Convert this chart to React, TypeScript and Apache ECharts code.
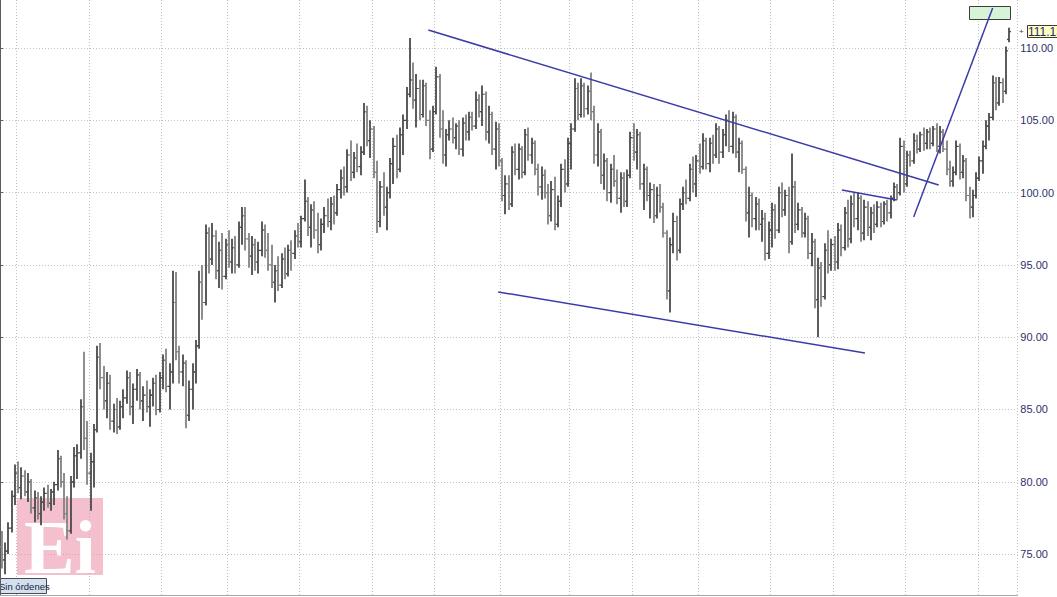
import React, { useEffect, useRef } from "react";
import * as echarts from "echarts";

const opens = [
  75.5,74.6,75.2,76.8,79.0,80.6,79.6,80.4,79.3,80.0,
  78.2,78.9,77.8,78.6,79.2,78.5,79.3,79.8,81.6,80.0,
  77.8,76.6,80.0,81.8,82.0,85.2,83.0,80.6,81.4,83.6,
  88.6,87.2,85.6,86.8,84.2,85.0,83.8,85.2,85.8,87.2,
  85.2,86.4,87.4,85.6,86.0,85.2,86.0,86.8,85.0,87.2,
  88.4,86.6,87.6,92.4,89.0,87.6,88.2,84.6,86.4,87.6,
  89.4,93.8,92.4,97.2,95.4,97.0,94.6,96.0,94.2,96.4,
  95.2,96.2,95.0,97.6,98.4,96.8,95.6,96.4,95.2,96.0,
  97.4,96.0,95.0,93.8,94.6,93.6,95.4,94.4,96.0,95.8,
  97.0,96.6,98.2,99.4,97.6,98.8,97.4,96.4,97.8,98.4,
  98.0,99.2,98.6,100.2,101.0,100.4,102.6,101.4,102.4,101.8,
  102.8,105.6,103.6,104.4,101.4,98.0,100.4,99.0,100.0,102.0,
  103.2,101.6,104.0,105.0,106.8,107.8,106.4,107.2,105.4,107.4,
  105.0,103.0,105.6,108.0,104.4,102.6,104.0,104.4,103.8,104.6,
  103.0,104.8,104.2,105.2,104.6,106.4,105.6,106.8,104.2,105.4,
  103.0,104.4,102.2,99.8,100.6,99.2,102.8,101.6,103.0,101.4,
  104.0,102.6,103.4,101.6,100.4,101.2,100.0,98.4,100.2,97.8,
  99.4,101.6,100.6,103.4,104.4,107.2,105.4,107.4,105.8,107.0,
  105.6,102.6,104.2,101.2,102.2,100.0,101.6,100.8,99.6,101.0,
  99.4,101.2,103.8,102.8,104.0,100.6,101.6,99.8,100.2,98.4,
  99.8,99.0,97.2,93.2,96.4,98.0,96.0,99.2,100.0,99.6,
  101.6,100.6,102.2,101.8,103.6,102.0,103.4,102.6,104.4,102.8,
  104.0,105.0,103.2,105.2,102.8,103.4,101.6,98.6,99.8,98.2,
  99.2,97.8,98.2,95.8,97.4,98.8,97.4,100.0,98.8,99.8,
  96.6,100.4,97.8,98.8,97.2,98.2,95.8,96.6,92.6,94.8,
  92.8,96.0,95.0,96.4,95.2,97.4,96.2,98.6,96.8,99.2,
  98.2,99.6,97.2,99.0,97.6,98.6,97.8,99.0,98.0,99.2,
  98.6,99.6,100.4,100.0,103.2,100.6,102.6,102.2,103.6,103.0,
  104.0,103.4,104.2,103.4,104.4,103.2,104.2,103.0,101.6,100.8,
  101.4,103.2,101.4,102.2,99.8,99.0,99.8,101.0,102.2,103.2,
  104.6,105.2,107.6,106.2,107.6,107.0,110.6,
];

const highs = [
  76.6,75.8,77.2,79.4,81.2,81.4,81.0,80.8,80.6,80.2,
  79.4,79.3,79.0,79.6,79.8,79.5,80.0,82.2,81.8,80.6,
  79.0,80.4,82.4,82.6,85.7,89.0,84.2,82.0,84.0,89.4,
  89.6,88.0,87.6,87.4,85.4,85.8,85.6,86.4,87.7,87.6,
  86.8,87.8,87.6,86.6,87.0,86.4,87.2,87.4,87.6,88.8,
  89.2,88.2,94.6,94.5,89.4,88.8,88.4,87.0,88.2,89.8,
  94.6,95.0,97.8,97.6,97.9,97.4,96.6,97.2,96.8,97.4,
  96.8,97.0,98.0,99.0,99.0,97.2,97.0,96.8,96.6,98.0,
  97.8,97.2,96.4,95.0,95.6,95.8,96.2,96.4,96.7,97.4,
  97.9,98.4,100.9,99.7,99.2,99.4,98.6,98.2,99.0,99.6,
  99.7,99.8,100.6,101.6,101.8,103.0,103.6,102.8,103.4,103.2,
  106.2,106.0,105.0,104.6,102.2,100.8,101.4,100.4,102.4,103.8,
  104.0,104.5,105.4,107.3,110.7,109.0,108.2,107.8,107.8,107.6,
  105.7,106.0,108.7,108.2,105.7,104.4,105.0,105.2,104.8,105.0,
  105.2,105.4,105.6,105.6,107.0,106.8,107.4,107.0,106.0,105.6,
  104.9,104.8,102.4,101.2,101.2,103.2,103.4,103.4,103.2,104.4,
  104.5,103.8,103.6,102.0,101.8,101.6,100.6,100.8,101.1,99.8,
  102.0,102.3,103.8,104.8,107.9,107.6,107.9,107.6,107.4,108.3,
  106.0,104.8,104.4,102.7,102.4,102.0,102.6,101.6,101.4,101.4,
  101.6,104.2,104.8,104.4,104.2,102.0,101.8,100.7,100.6,100.4,
  100.6,99.3,97.4,96.9,98.6,98.4,99.6,100.4,100.9,102.0,
  102.5,102.6,103.4,104.1,103.8,103.8,104.0,104.8,104.6,104.4,
  105.4,105.7,105.6,105.4,103.8,103.6,101.8,100.4,100.0,99.7,
  99.6,98.8,98.6,98.0,99.3,99.2,100.4,100.7,100.2,100.4,
  102.7,100.8,99.3,99.0,98.6,98.4,97.2,96.8,95.5,95.2,
  96.5,97.4,96.8,97.0,97.9,97.8,99.0,99.5,99.8,100.0,
  100.0,99.8,99.5,99.4,99.0,99.2,99.4,99.3,99.4,99.5,
  99.8,100.7,100.6,103.8,103.6,102.9,102.9,104.1,104.0,104.2,
  104.5,104.4,104.5,104.6,104.8,104.6,104.4,103.6,102.2,101.8,
  103.6,103.4,102.6,102.4,100.4,100.2,101.4,102.5,103.6,105.0,
  105.5,108.1,108.0,108.0,107.9,110.1,111.4,
];

const lows = [
  74.0,73.6,75.0,76.5,78.4,79.2,78.8,79.0,78.6,77.8,
  77.2,77.4,77.0,78.0,78.2,78.0,78.4,79.4,79.6,77.4,
  76.0,76.4,79.6,80.2,81.6,82.2,79.8,78.0,79.6,83.4,
  86.4,85.0,84.4,83.6,83.4,83.3,83.6,84.4,85.4,84.6,
  84.0,85.6,85.0,84.2,84.8,83.8,85.2,84.6,84.8,86.4,
  86.2,85.0,86.8,88.4,86.8,86.6,83.7,84.2,85.0,86.8,
  89.2,91.2,92.2,94.4,95.0,94.0,93.4,93.3,94.0,94.8,
  94.4,94.4,94.8,96.4,96.0,94.8,94.3,94.6,94.4,95.6,
  95.5,94.6,93.4,92.4,93.2,93.4,94.0,94.2,94.6,95.4,
  96.2,96.2,98.0,97.0,96.2,96.8,95.8,96.0,97.2,97.6,
  97.4,97.8,98.4,99.6,99.8,100.0,100.8,101.0,101.4,101.2,
  102.6,103.2,102.4,101.0,97.2,97.6,98.4,97.4,99.6,100.6,
  101.0,101.4,102.6,104.4,106.6,105.8,104.5,105.0,105.2,104.6,
  102.3,102.8,105.4,103.8,102.0,101.8,103.6,103.4,103.0,102.6,
  102.5,103.6,103.6,104.3,104.4,105.2,104.6,103.6,103.4,102.6,
  101.6,101.8,99.4,98.5,98.8,99.0,101.2,100.9,101.0,101.2,
  102.2,102.0,101.2,99.8,99.5,99.6,97.8,98.0,97.4,97.6,
  99.0,100.0,100.4,101.6,104.2,105.0,105.2,105.2,105.4,105.0,
  102.0,101.8,100.6,100.2,99.4,99.3,100.4,99.2,98.6,99.0,
  99.0,101.0,102.2,101.6,100.2,98.8,99.4,98.2,97.9,98.2,
  98.6,96.9,92.6,91.7,95.8,95.3,95.8,98.8,99.2,99.4,
  100.0,99.7,101.3,101.6,101.6,101.4,102.0,102.4,102.0,102.4,
  103.2,102.8,102.7,102.4,101.4,101.3,98.0,96.9,97.6,97.4,
  97.4,96.6,95.3,95.4,96.2,96.8,97.2,98.3,98.4,95.8,
  96.4,97.2,97.4,96.9,96.9,95.4,94.9,92.0,90.0,92.1,
  92.6,94.4,94.6,94.6,94.7,95.6,96.0,96.2,96.5,97.6,
  97.4,96.6,96.7,97.0,96.7,97.2,97.6,97.6,97.8,98.0,
  98.2,99.4,99.5,99.8,100.0,100.4,101.8,102.0,102.7,102.8,
  102.9,103.0,103.0,103.2,102.8,102.7,102.8,101.2,100.4,100.4,
  101.2,100.9,101.0,99.4,98.2,98.3,99.6,100.8,101.3,103.0,
  103.6,105.0,105.7,106.0,106.2,106.8,110.4,
];

const closes = [
  74.6,75.2,76.8,79.0,80.6,79.6,80.4,79.3,80.0,78.2,
  78.9,77.8,78.6,79.2,78.5,79.3,79.8,81.6,80.0,77.8,
  76.6,80.0,81.8,82.0,85.2,83.0,80.6,81.4,83.6,88.6,
  87.2,85.6,86.8,84.2,85.0,83.8,85.2,85.8,87.2,85.2,
  86.4,87.4,85.6,86.0,85.2,86.0,86.8,85.0,87.2,88.4,
  86.6,87.6,92.4,89.0,87.6,88.2,84.6,86.4,87.6,89.4,
  93.8,92.4,97.2,95.4,97.0,94.6,96.0,94.2,96.4,95.2,
  96.2,95.0,97.6,98.4,96.8,95.6,96.4,95.2,96.0,97.4,
  96.0,95.0,93.8,94.6,93.6,95.4,94.4,96.0,95.8,97.0,
  96.6,98.2,99.4,97.6,98.8,97.4,96.4,97.8,98.4,98.0,
  99.2,98.6,100.2,101.0,100.4,102.6,101.4,102.4,101.8,102.8,
  105.6,103.6,104.4,101.4,98.0,100.4,99.0,100.0,102.0,103.2,
  101.6,104.0,105.0,106.8,107.8,106.4,107.2,105.4,107.4,105.0,
  103.0,105.6,108.0,104.4,102.6,104.0,104.4,103.8,104.6,103.0,
  104.8,104.2,105.2,104.6,106.4,105.6,106.8,104.2,105.4,103.0,
  104.4,102.2,99.8,100.6,99.2,102.8,101.6,103.0,101.4,104.0,
  102.6,103.4,101.6,100.4,101.2,100.0,98.4,100.2,97.8,99.4,
  101.6,100.6,103.4,104.4,107.2,105.4,107.4,105.8,107.0,105.6,
  102.6,104.2,101.2,102.2,100.0,101.6,100.8,99.6,101.0,99.4,
  101.2,103.8,102.8,104.0,100.6,101.6,99.8,100.2,98.4,99.8,
  99.0,97.2,93.2,96.4,98.0,96.0,99.2,100.0,99.6,101.6,
  100.6,102.2,101.8,103.6,102.0,103.4,102.6,104.4,102.8,104.0,
  105.0,103.2,105.2,102.8,103.4,101.6,98.6,99.8,98.2,99.2,
  97.8,98.2,95.8,97.4,98.8,97.4,100.0,98.8,99.8,96.6,
  100.4,97.8,98.8,97.2,98.2,95.8,96.6,92.6,94.8,92.8,
  96.0,95.0,96.4,95.2,97.4,96.2,98.6,96.8,99.2,98.2,
  99.6,97.2,99.0,97.6,98.6,97.8,99.0,98.0,99.2,98.6,
  99.6,100.4,100.0,103.2,100.6,102.6,102.2,103.6,103.0,104.0,
  103.4,104.2,103.4,104.4,103.2,104.2,103.0,101.6,100.8,101.4,
  103.2,101.4,102.2,99.8,99.0,99.8,101.0,102.2,103.2,104.6,
  105.2,107.6,106.2,107.6,107.0,109.8,111.13,
];

// number of category slots on the time axis (bars + 2 empty slots on the right)
const SLOT_COUNT = 309;
const slots = Array.from({ length: SLOT_COUNT }, (_, i) => String(i));
// slots where a month starts (vertical grid lines)
const monthStarts = [5, 27, 49, 69, 91, 113, 132, 152, 173, 192, 212, 234, 253, 275, 297];

// drawn trend lines: [slotPosition, price] pairs
const trendUpper = [[130.1, 111.24], [285.1, 100.53]];
const trendLower = [[151.3, 93.13], [262.7, 88.91]];
const trendShort = [[255.7, 100.18], [272.4, 99.49]];
const trendSteep = [[277.5, 98.31], [301.5, 112.77]];
// order box: [slotLeft, priceTop, slotRight, priceBottom]
const orderBox = [[294.2, 112.9, 306.6, 112.0]];

const lastPrice = 111.13;
const yMin = 72.17;
const yMax = 113.32;

export default function App() {
  const ref = useRef<HTMLDivElement>(null);

  useEffect(() => {
    document.body.style.margin = "0";
    const chart = echarts.init(ref.current!, null, { renderer: "svg" });
    const ohlc = opens.map((o, i) => [i, o, highs[i], lows[i], closes[i]]);
    const monthSet = new Set(monthStarts);
    const trendStyle = { color: "#3b3ba8", width: 1.5 };
    const mkTrend = (d: number[][]) => ({
      type: "line",
      xAxisIndex: 1,
      yAxisIndex: 0,
      data: d,
      symbol: "none",
      silent: true,
      z: 5,
      lineStyle: trendStyle,
    });

    const option: any = {
      animation: false,
      backgroundColor: "#ffffff",
      grid: { left: 0, right: 36, top: 0, bottom: 2, containLabel: false },
      xAxis: [
        {
          type: "category",
          data: slots,
          boundaryGap: true,
          axisLine: { show: true, lineStyle: { color: "#a8a8a8" } },
          axisTick: { show: false },
          axisLabel: { show: false },
          splitLine: {
            show: true,
            interval: (idx: number) => monthSet.has(idx),
            lineStyle: { color: "#c2c2c2", type: [1, 2], width: 1 },
          },
        },
        { type: "value", min: 0, max: SLOT_COUNT, show: false },
      ],
      yAxis: {
        type: "value",
        position: "right",
        min: yMin,
        max: yMax,
        minInterval: 5,
        maxInterval: 5,
        splitNumber: 8,
        axisLine: { show: true, lineStyle: { color: "#5c5c5c" } },
        axisTick: { show: true, length: 3, lineStyle: { color: "#5c5c5c" } },
        axisLabel: {
          show: true,
          margin: 3,
          color: "#30306c",
          fontSize: 11,
          fontFamily: "Arial, 'Liberation Sans', sans-serif",
          showMinLabel: false,
          showMaxLabel: false,
          formatter: (v: number) => v.toFixed(2),
        },
        splitLine: {
          show: true,
          showMinLine: false,
          showMaxLine: false,
          lineStyle: { color: "#c2c2c2", type: [1, 2], width: 1 },
        },
      },
      series: [
        {
          type: "custom",
          xAxisIndex: 0,
          yAxisIndex: 0,
          z: 3,
          data: ohlc,
          encode: { x: 0, y: [1, 2, 3, 4] },
          renderItem: (_p: any, api: any) => {
            const i = api.value(0);
            const o = api.value(1);
            const c = api.value(4);
            const pO = api.coord([i, o]);
            const pH = api.coord([i, api.value(2)]);
            const pL = api.coord([i, api.value(3)]);
            const pC = api.coord([i, c]);
            const x = Math.round(pO[0]);
            const color = c >= o ? "#4a4a4a" : "#828282";
            const style = { stroke: color, lineWidth: 1.8 };
            const tick = { stroke: color, lineWidth: 1.2 };
            return {
              type: "group",
              children: [
                { type: "line", shape: { x1: x, y1: pH[1], x2: x, y2: pL[1] }, style },
                { type: "line", shape: { x1: x - 2, y1: pO[1], x2: x, y2: pO[1] }, style: tick },
                { type: "line", shape: { x1: x, y1: pC[1], x2: x + 2, y2: pC[1] }, style: tick },
              ],
            };
          },
        },
        mkTrend(trendUpper),
        mkTrend(trendLower),
        mkTrend(trendShort),
        mkTrend(trendSteep),
        {
          type: "custom",
          xAxisIndex: 1,
          yAxisIndex: 0,
          z: 4,
          clip: false,
          data: orderBox,
          encode: { x: [0, 2], y: [1, 3] },
          renderItem: (_p: any, api: any) => {
            const a = api.coord([api.value(0), api.value(1)]);
            const b = api.coord([api.value(2), api.value(3)]);
            return {
              type: "rect",
              shape: {
                x: Math.round(a[0]) + 0.5,
                y: Math.round(a[1]) + 0.5,
                width: Math.round(b[0] - a[0]),
                height: Math.round(b[1] - a[1]),
              },
              style: { fill: "#d6f4d6", stroke: "#3c3c3c", lineWidth: 1 },
            };
          },
        },
      ],
    };
    chart.setOption(option);

    const py = chart.convertToPixel({ yAxisIndex: 0 }, lastPrice) as number;
    chart.setOption({
      graphic: [
        {
          type: "group",
          x: 17,
          y: 498,
          z: 1,
          silent: true,
          children: [
            { type: "rect", shape: { x: 0, y: 0, width: 86, height: 77 }, style: { fill: "rgba(236,140,165,0.55)" }, z: 1 },
            {
              type: "text",
              x: 7,
              y: 49,
              z: 1,
              style: {
                text: "Ei",
                fill: "#ffffff",
                font: "bold 76px 'Liberation Serif', 'DejaVu Serif', serif",
                lineHeight: 54,
                textVerticalAlign: "middle",
              },
            },
          ],
        },
        {
          type: "group",
          x: 0,
          y: 578,
          z: 10,
          children: [
            { type: "rect", shape: { x: 0.5, y: 0.5, width: 46, height: 15 }, style: { fill: "#d3e1ef", stroke: "#4a4a5e", lineWidth: 1 } },
            {
              type: "text",
              x: -1,
              y: 8,
              style: {
                text: "Sin órdenes",
                fill: "#22223a",
                font: "9.5px Arial, 'Liberation Sans', sans-serif",
                textVerticalAlign: "middle",
              },
            },
          ],
        },
        {
          type: "text",
          x: 1019,
          y: Math.round(py) - 1,
          z: 10,
          style: {
            text: "+",
            fill: "#3a3a3a",
            font: "8px Arial, 'Liberation Sans', sans-serif",
            textVerticalAlign: "middle",
          },
        },
        {
          type: "group",
          x: 1027,
          y: Math.round(py) - 7,
          z: 10,
          children: [
            { type: "rect", shape: { x: 0.5, y: 0.5, width: 40, height: 12 }, style: { fill: "#ffffc2", stroke: "#3a3a3a", lineWidth: 1 } },
            {
              type: "text",
              x: 1,
              y: 7,
              style: {
                text: lastPrice.toFixed(2),
                fill: "#26266a",
                font: "12px Arial, 'Liberation Sans', sans-serif",
                textVerticalAlign: "middle",
              },
            },
          ],
        },
      ],
    });

    return () => chart.dispose();
  }, []);

  return (
    <div
      ref={ref}
      style={{ position: "absolute", left: 0, top: 0, width: 1057, height: 597, background: "#fff" }}
    />
  );
}
